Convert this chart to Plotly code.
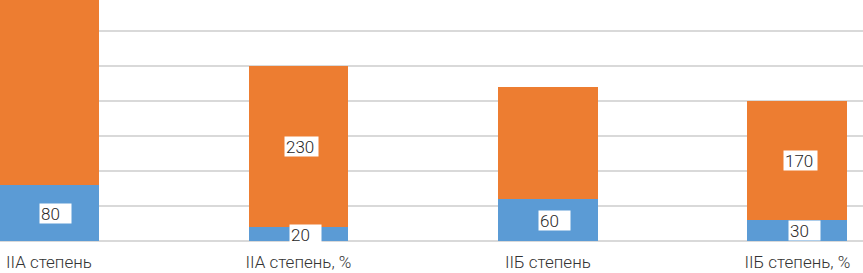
import plotly.graph_objects as go

categories = ["IIA степень", "IIA степень, %", "IIБ степень", "IIБ степень, %"]
blue_values = [80, 20, 60, 30]
orange_values = [420, 230, 160, 170]
blue_labels = ["80", "20", "60", "30"]
orange_labels = [None, "230", None, "170"]

BLUE = "#5B9BD5"
ORANGE = "#ED7D31"
FONT = "Roboto"

fig = go.Figure()
fig.add_trace(go.Bar(x=list(range(4)), y=blue_values, marker=dict(color=BLUE, line=dict(width=0)),
                     width=0.4, hoverinfo="skip"))
fig.add_trace(go.Bar(x=list(range(4)), y=orange_values, marker=dict(color=ORANGE, line=dict(width=0)),
                     width=0.4, hoverinfo="skip"))


def label(x, y, txt):
    n = len(txt)
    w = max(29, int(n * 9.6) + 3)
    tw = n * 9.6
    # text centred on the bar, box extending to the right
    shift = (w - tw) / 2 + 2
    return dict(x=x, y=y, text=txt, showarrow=False, xshift=shift, align="left",
                bgcolor="white", borderpad=1, width=w, height=17,
                font=dict(family=FONT, size=17, color="#262626", weight=300))


annotations = []
for i in range(4):
    b = blue_values[i]
    o = orange_values[i]
    if blue_labels[i]:
        annotations.append(label(i, b / 2, blue_labels[i]))
    if orange_labels[i]:
        annotations.append(label(i, b + o / 2, orange_labels[i]))

fig.update_layout(
    width=863, height=273,
    margin=dict(l=0, r=0, t=0, b=32),
    barmode="stack",
    showlegend=False,
    plot_bgcolor="white",
    paper_bgcolor="white",
    bargap=0,
    annotations=annotations,
    xaxis=dict(range=[-0.196, 3.263], tickmode="array", tickvals=list(range(4)), ticktext=categories,
               showgrid=False, zeroline=False, showline=False, ticks="",
               tickfont=dict(family=FONT, size=17, color="#333333", weight=300),
               ticklabelstandoff=9, automargin=False),
    yaxis=dict(range=[0, 344.3], dtick=50, showgrid=True, gridcolor="#d9d9d9", gridwidth=1.5,
               zeroline=True, zerolinecolor="#d9d9d9", zerolinewidth=1.5,
               showticklabels=False, ticks="", automargin=False),
)

fig.write_html("out.html", config={"displayModeBar": False},
               post_script="document.body.style.margin='0';document.body.style.overflow='hidden';")
